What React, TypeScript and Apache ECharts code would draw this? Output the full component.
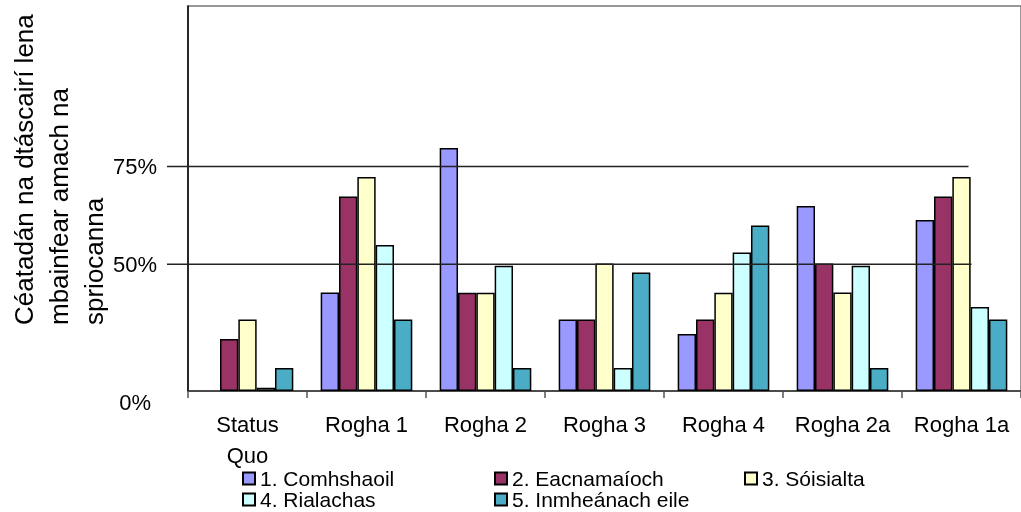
import React, { useEffect, useRef } from "react";
import * as echarts from "echarts";

const categories = ["Status Quo", "Rogha 1", "Rogha 2", "Rogha 3", "Rogha 4", "Rogha 2a", "Rogha 1a"];
const seriesNames = ["1. Comhshaoil", "2. Eacnamaíoch", "3. Sóisialta", "4. Rialachas", "5. Inmheánach eile"];
const comhshaoil = [null, 42.8, 79.7, 35.9, 32.2, 64.9, 61.3];
const eacnamaioch = [30.9, 67.3, 42.7, 35.9, 35.9, 50.2, 67.3];
const soisialta = [35.9, 72.3, 42.7, 50.2, 42.7, 42.8, 72.3];
const rialachas = [18.4, 54.9, 49.6, 23.5, 53.0, 49.6, 39.1];
const inmheanach = [23.5, 35.9, 23.5, 47.9, 59.9, 23.5, 35.9];
const seriesValues = [comhshaoil, eacnamaioch, soisialta, rialachas, inmheanach];
const colors = ["#9999FF", "#993366", "#FFFFCC", "#CCFFFF", "#4BACC6"];
const yMin = 17.6;
const yMax = 116;
const yTickValues = [17.6, 50, 75];
const yTickLabels = ["0%", "50%", "75%"];
const gridLineValues = [50, 75];
const yTitle = "Céatadán na dtáscairí lena\nmbainfear amach na\nspriocanna";

const FONT = "Liberation Sans, Arial, sans-serif";

export default function App() {
  const ref = useRef<HTMLDivElement>(null);
  useEffect(() => {
    if (!ref.current) return;
    const chart = echarts.init(ref.current, null, { renderer: "svg" });
    const legendPos = [
      { left: 242, top: 468 },
      { left: 494, top: 468 },
      { left: 744, top: 468 },
      { left: 242, top: 489 },
      { left: 494, top: 489 },
    ];
    chart.setOption({
      animation: false,
      textStyle: { fontFamily: FONT },
      grid: {
        left: 188,
        top: 6,
        right: -4,
        bottom: 121,
        show: true,
        borderColor: "#777",
        borderWidth: 1.5,
      },
      legend: seriesNames.map((n, i) => ({
        data: [n],
        left: legendPos[i].left,
        top: legendPos[i].top,
        padding: 0,
        icon: "rect",
        itemWidth: 12,
        itemHeight: 12,
        itemGap: 0,
        selectedMode: false,
        textStyle: { fontFamily: FONT, fontSize: 21, color: "#000", lineHeight: 21 },
      })),
      xAxis: {
        type: "category",
        data: categories,
        axisLine: { lineStyle: { color: "#333", width: 1.5 } },
        axisTick: { show: true, length: 7, lineStyle: { color: "#555", width: 1.5 } },
        axisLabel: {
          fontFamily: FONT,
          fontSize: 22,
          color: "#000",
          margin: 18,
          lineHeight: 31,
          interval: 0,
          formatter: (v: string) => (v === "Status Quo" ? "Status\nQuo" : v),
        },
      },
      yAxis: {
        type: "value",
        min: yMin,
        max: yMax,
        startValue: yMin,
        splitLine: { show: false },
        axisLine: { show: true, lineStyle: { color: "#000", width: 1.5 } },
        axisTick: { show: false },
        axisLabel: {
          customValues: yTickValues,
          fontFamily: FONT,
          fontSize: 22,
          color: "#000",
          margin: 31,
          formatter: (v: number) => {
            const i = yTickValues.findIndex((t) => Math.abs(t - v) < 0.01);
            if (i === 0) return "{z|" + yTickLabels[0] + "}";
            return i >= 0 ? yTickLabels[i] : "";
          },
          rich: {
            z: { fontFamily: FONT, fontSize: 22, color: "#000", padding: [22, 6, 0, 0] },
          },
        },
      },
      series: seriesNames.map((n, i) => ({
        name: n,
        type: "bar",
        data: seriesValues[i],
        barGap: "0%",
        barCategoryGap: "23%",
        itemStyle: { color: colors[i], borderColor: "#000", borderWidth: 1.5 },
      })),
    });

    const lastX = chart.convertToPixel({ xAxisIndex: 0 }, categories[categories.length - 1]) as number;
    const graphics: any[] = gridLineValues.map((v, i) => {
      const y = chart.convertToPixel({ yAxisIndex: 0 }, v) as number;
      return {
        type: "line",
        z: 100,
        shape: { x1: 167, y1: y, x2: lastX + (i === 0 ? 10 : 7), y2: y },
        style: { stroke: "#222", lineWidth: 1.5 },
      };
    });
    graphics.push({
      type: "text",
      x: 6,
      y: 325,
      rotation: Math.PI / 2,
      style: {
        text: yTitle,
        fontFamily: FONT,
        fontSize: 26,
        lineHeight: 35,
        fill: "#000",
        align: "left",
        verticalAlign: "top",
      },
    });
    chart.setOption({ graphic: graphics });

    return () => chart.dispose();
  }, []);
  return <div ref={ref} style={{ position: "fixed", left: 0, top: 0, width: 1021, height: 512 }} />;
}
